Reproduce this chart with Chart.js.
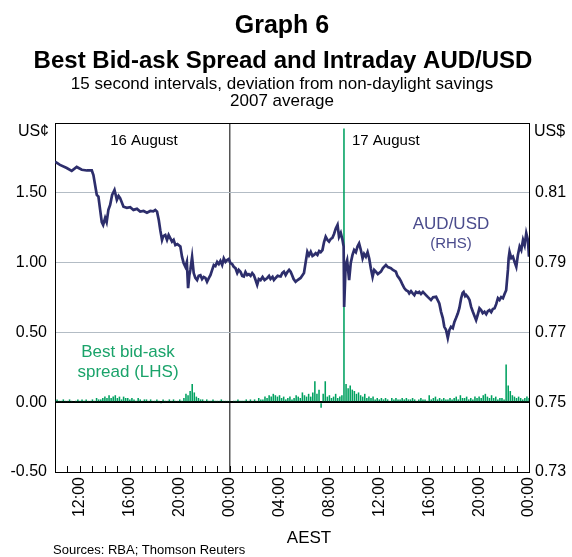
<!DOCTYPE html>
<html>
<head>
<meta charset="utf-8">
<script src="https://cdn.jsdelivr.net/npm/chart.js@4.4.0/dist/chart.umd.min.js"></script>
<style>
  html, body { margin: 0; padding: 0; background: #fff; }
</style>
</head>
<body>
<canvas id="graph" width="572" height="557"></canvas>
<script>
// hours since 00:00 16 August (AEST)
var audTimes = [
  10.00, 10.40, 10.94, 11.34, 11.74, 12.15, 12.55, 12.95, 13.08, 13.35,
  13.48, 13.62, 13.75, 13.86, 14.02, 14.14, 14.28, 14.42, 14.58, 14.77,
  14.96, 15.10, 15.22, 15.49, 15.76, 16.03, 16.29, 16.57, 16.83, 17.10,
  17.37, 17.64, 17.88, 18.04, 18.18, 18.32, 18.44, 18.58, 18.68, 18.84,
  18.98, 19.11, 19.24, 19.38, 19.51, 19.65, 19.81, 20.05, 20.18, 20.31,
  20.45, 20.57, 20.67, 20.77, 20.85, 20.99, 21.12, 21.25, 21.39, 21.52,
  21.66, 21.79, 21.92, 22.06, 22.19, 22.34, 22.46, 22.60, 22.73, 22.86,
  23.00, 23.13, 23.26, 23.40, 23.53, 23.67, 23.80, 23.93, 24.07, 24.20,
  24.33, 24.47, 24.61, 24.73, 24.87, 25.01, 25.14, 25.27, 25.41, 25.54,
  25.68, 25.81, 25.94, 26.08, 26.21, 26.34, 26.48, 26.64, 26.80, 27.02,
  27.16, 27.28, 27.44, 27.55, 27.69, 27.85, 28.09, 28.22, 28.35, 28.49,
  28.63, 28.77, 28.89, 29.01, 29.13, 29.29, 29.45, 29.69, 29.96, 30.10,
  30.23, 30.36, 30.50, 30.64, 30.76, 30.90, 31.04, 31.18, 31.30, 31.44,
  31.57, 31.70, 31.84, 31.97, 32.11, 32.24, 32.37, 32.51, 32.65, 32.77,
  32.91, 33.05, 33.14, 33.18, 33.30, 33.42, 33.58, 33.71, 33.85, 33.98,
  34.12, 34.25, 34.38, 34.52, 34.66, 34.78, 34.92, 35.06, 35.19, 35.32,
  35.46, 35.59, 35.72, 35.88, 36.13, 36.29, 36.53, 36.69, 36.93, 37.09,
  37.33, 37.45, 37.60, 37.73, 37.87, 38.00, 38.14, 38.30, 38.40, 38.54,
  38.68, 38.81, 38.94, 39.10, 39.20, 39.34, 39.50, 39.74, 39.90, 40.14,
  40.31, 40.55, 40.67, 40.81, 40.95, 41.09, 41.21, 41.35, 41.49, 41.62,
  41.75, 41.89, 42.02, 42.15, 42.29, 42.42, 42.56, 42.68, 42.76, 42.88,
  42.96, 43.10, 43.23, 43.36, 43.50, 43.63, 43.76, 43.90, 44.03, 44.16,
  44.29, 44.43, 44.57, 44.70, 44.83, 44.97, 45.10, 45.24, 45.37, 45.51,
  45.64, 45.77, 45.91, 46.04, 46.17, 46.31, 46.37, 46.44, 46.58, 46.71,
  46.84, 46.98, 47.11, 47.25, 47.38, 47.52, 47.65, 47.78, 47.91, 48.00
];
var audValues = [
  0.8189, 0.8180, 0.8171, 0.8163, 0.8174, 0.8166, 0.8164, 0.8164, 0.8151, 0.8094,
  0.8089, 0.8051, 0.8016, 0.8008, 0.8028, 0.8016, 0.8051, 0.8065, 0.8094, 0.8108,
  0.8080, 0.8091, 0.8085, 0.8060, 0.8057, 0.8059, 0.8051, 0.8054, 0.8046, 0.8048,
  0.8043, 0.8048, 0.8047, 0.8051, 0.8046, 0.8022, 0.7993, 0.7965, 0.7976, 0.7979,
  0.7965, 0.7979, 0.7970, 0.7960, 0.7965, 0.7950, 0.7953, 0.7946, 0.7917, 0.7899,
  0.7888, 0.7902, 0.7827, 0.7864, 0.7879, 0.7916, 0.7870, 0.7856, 0.7850, 0.7862,
  0.7864, 0.7853, 0.7859, 0.7856, 0.7845, 0.7856, 0.7864, 0.7879, 0.7893, 0.7890,
  0.7902, 0.7896, 0.7905, 0.7893, 0.7912, 0.7902, 0.7907, 0.7910, 0.7898, 0.7896,
  0.7888, 0.7884, 0.7870, 0.7879, 0.7874, 0.7862, 0.7860, 0.7873, 0.7864, 0.7867,
  0.7862, 0.7870, 0.7864, 0.7850, 0.7836, 0.7853, 0.7850, 0.7859, 0.7850, 0.7856,
  0.7862, 0.7853, 0.7859, 0.7850, 0.7856, 0.7862, 0.7860, 0.7870, 0.7874, 0.7864,
  0.7873, 0.7879, 0.7874, 0.7864, 0.7853, 0.7845, 0.7850, 0.7856, 0.7870, 0.7902,
  0.7931, 0.7921, 0.7931, 0.7919, 0.7922, 0.7927, 0.7922, 0.7933, 0.7930, 0.7936,
  0.7959, 0.7974, 0.7965, 0.7960, 0.7968, 0.7971, 0.7982, 0.7998, 0.8008, 0.7974,
  0.7985, 0.7965, 0.7946, 0.7773, 0.7893, 0.7907, 0.7850, 0.7899, 0.7922, 0.7936,
  0.7930, 0.7946, 0.7955, 0.7936, 0.7912, 0.7925, 0.7917, 0.7930, 0.7912, 0.7884,
  0.7859, 0.7879, 0.7874, 0.7867, 0.7874, 0.7884, 0.7893, 0.7887, 0.7884, 0.7879,
  0.7874, 0.7862, 0.7855, 0.7847, 0.7836, 0.7827, 0.7821, 0.7818, 0.7812, 0.7818,
  0.7812, 0.7807, 0.7816, 0.7813, 0.7816, 0.7810, 0.7816, 0.7807, 0.7801, 0.7793,
  0.7801, 0.7802, 0.7793, 0.7783, 0.7759, 0.7741, 0.7716, 0.7707, 0.7684, 0.7707,
  0.7716, 0.7712, 0.7730, 0.7741, 0.7754, 0.7770, 0.7798, 0.7813, 0.7816, 0.7804,
  0.7807, 0.7801, 0.7793, 0.7773, 0.7759, 0.7747, 0.7735, 0.7752, 0.7769, 0.7764,
  0.7755, 0.7759, 0.7752, 0.7761, 0.7764, 0.7758, 0.7767, 0.7769, 0.7781, 0.7798,
  0.7793, 0.7801, 0.7798, 0.7810, 0.7821, 0.7879, 0.7913, 0.7931, 0.7913, 0.7917,
  0.7902, 0.7888, 0.7922, 0.7946, 0.7936, 0.7965, 0.7950, 0.7984, 0.7965, 0.7917
];

// best bid-ask spread, 10-minute steps from 10:00 16 August, one row = 2 hours
var spreadStart = 10;
var spreadValues = [
  0.01, 0.02, 0.01, 0.01, 0.02, 0.01, 0.01, 0.02, 0.01, 0.00, 0.01, 0.02,
  0.01, 0.02, 0.01, 0.02, 0.01, 0.01, 0.02, 0.01, 0.03, 0.02, 0.02, 0.03,
  0.04, 0.03, 0.05, 0.03, 0.04, 0.05, 0.03, 0.04, 0.02, 0.04, 0.03, 0.03,
  0.02, 0.03, 0.02, 0.01, 0.03, 0.02, 0.01, 0.02, 0.02, 0.01, 0.02, 0.01,
  0.01, 0.02, 0.01, -0.01, 0.02, 0.01, 0.01, 0.02, 0.01, 0.02, 0.01, 0.01,
  0.02, 0.01, 0.03, 0.06, 0.05, 0.08, 0.13, 0.07, 0.04, 0.03, 0.02, 0.02,
  0.01, 0.02, 0.01, 0.01, 0.02, 0.01, 0.01, 0.01, 0.02, 0.01, 0.01, 0.01,
  0.01, 0.00, 0.01, 0.01, 0.02, 0.01, 0.01, 0.01, 0.02, 0.01, 0.02, 0.01,
  0.02, 0.01, 0.03, 0.02, 0.02, 0.04, 0.03, 0.05, 0.04, 0.06, 0.05, 0.04,
  0.05, 0.03, 0.04, 0.02, 0.03, 0.04, 0.02, 0.03, 0.05, 0.04, 0.03, 0.07,
  0.05, 0.04, 0.06, 0.04, 0.07, 0.15, 0.06, 0.09, -0.04, 0.06, 0.15, 0.04,
  0.05, 0.03, 0.04, 0.06, 0.03, 0.04, 0.05, 1.96, 0.13, 0.10, 0.12, 0.09,
  0.08, 0.06, 0.07, 0.05, 0.04, 0.06, 0.03, 0.04, 0.03, 0.04, 0.02, 0.03,
  0.02, 0.03, 0.02, 0.03, 0.02, 0.01, 0.03, 0.02, 0.03, 0.02, 0.02, 0.03,
  0.02, 0.03, 0.02, 0.02, 0.03, 0.02, 0.01, 0.02, 0.03, 0.02, 0.02, 0.01,
  0.05, 0.02, 0.03, 0.04, 0.02, 0.03, 0.02, 0.03, 0.02, 0.02, 0.03, 0.02,
  0.03, 0.04, 0.02, 0.05, 0.03, 0.03, 0.04, 0.02, 0.03, 0.02, 0.04, 0.03,
  0.04, 0.03, 0.05, 0.06, 0.04, 0.03, 0.05, 0.03, 0.04, 0.02, 0.03, 0.03,
  0.02, 0.27, 0.12, 0.08, 0.05, 0.04, 0.03, 0.04, 0.03, 0.02, 0.03, 0.04,
  0.03
];

var xMin = 10, xMax = 48;
var lhsTicks = [-0.5, 0, 0.5, 1, 1.5, 2];
var rhsTicks = [0.73, 0.75, 0.77, 0.79, 0.81, 0.83];

var navy = '#2d2e6c';
var green = '#00a160';
var gridGrey = '#b3bcc5';

Chart.defaults.font.family = '"Liberation Sans", Arial, sans-serif';
Chart.defaults.color = '#000';

function hourLabel(v) {
    if (v % 4 !== 0) return '';
    var h = v % 24;
    return (h < 10 ? '0' : '') + h + ':00';
}

var graphText = {
    id: 'graphText',
    afterDraw: function (chart) {
        var ctx = chart.ctx;
        var area = chart.chartArea;
        var xs = chart.scales.x;
        ctx.save();

        // top border
        ctx.fillStyle = '#000';
        ctx.fillRect(area.left, Math.round(area.top), area.right - area.left, 1);

        // hourly tick marks point up into the plot
        for (var h = xMin + 1; h < xMax; h++) {
            var px = Math.round(xs.getPixelForValue(h));
            ctx.fillRect(px, Math.round(area.bottom) - 6, 1, 6);
        }

        ctx.textBaseline = 'alphabetic';
        ctx.textAlign = 'center';
        ctx.font = 'bold 25px "Liberation Sans", Arial, sans-serif';
        ctx.fillText('Graph 6', 282, 33);
        ctx.font = 'bold 24px "Liberation Sans", Arial, sans-serif';
        ctx.fillText('Best Bid-ask Spread and Intraday AUD/USD', 283, 68);
        ctx.font = '17px "Liberation Sans", Arial, sans-serif';
        ctx.fillText('15 second intervals, deviation from non-daylight savings', 282, 89);
        ctx.fillText('2007 average', 282, 106);

        ctx.font = '16px "Liberation Sans", Arial, sans-serif';
        ctx.textAlign = 'right';
        ctx.fillText('US\u00a2', 49, 136);
        ctx.textAlign = 'left';
        ctx.fillText('US$', 534, 136);

        ctx.font = '15px "Liberation Sans", Arial, sans-serif';
        ctx.textAlign = 'center';
        ctx.fillText('16 August', 144, 145);
        ctx.textAlign = 'left';
        ctx.fillText('17 August', 352, 145);

        ctx.fillStyle = '#4a4b8c';
        ctx.textAlign = 'center';
        ctx.font = '17px "Liberation Sans", Arial, sans-serif';
        ctx.fillText('AUD/USD', 451, 229);
        ctx.font = '15px "Liberation Sans", Arial, sans-serif';
        ctx.fillText('(RHS)', 451, 248);

        ctx.fillStyle = '#1aa36a';
        ctx.font = '17px "Liberation Sans", Arial, sans-serif';
        ctx.fillText('Best bid-ask', 128, 357);
        ctx.fillText('spread (LHS)', 128, 377);

        ctx.fillStyle = '#000';
        ctx.font = '17px "Liberation Sans", Arial, sans-serif';
        ctx.fillText('AEST', 309, 543);
        ctx.textAlign = 'left';
        ctx.font = '13px "Liberation Sans", Arial, sans-serif';
        ctx.fillText('Sources: RBA; Thomson Reuters', 53, 554);
        ctx.restore();
    }
};

new Chart(document.getElementById('graph'), {
    type: 'bar',
    data: {
        datasets: [
            {
                type: 'line',
                label: 'AUD/USD',
                data: audTimes.map(function (t, i) { return { x: t, y: audValues[i] }; }),
                yAxisID: 'y1',
                borderColor: navy,
                borderWidth: 2.7,
                pointRadius: 0,
                tension: 0,
                order: 1
            },
            {
                type: 'bar',
                label: 'Best bid-ask spread',
                data: spreadValues.map(function (v, i) { return { x: spreadStart + i / 6, y: v }; }),
                yAxisID: 'y',
                backgroundColor: green,
                borderWidth: 0,
                barPercentage: 0.75,
                categoryPercentage: 1,
                order: 2
            }
        ]
    },
    options: {
        responsive: false,
        animation: false,
        events: [],
        layout: { padding: { top: 123, left: 0, right: 0, bottom: 0 } },
        plugins: {
            legend: { display: false },
            title: { display: false },
            tooltip: { enabled: false }
        },
        scales: {
            x: {
                type: 'linear',
                min: xMin,
                max: xMax,
                offset: false,
                afterFit: function (s) { s.height = 85; },
                afterBuildTicks: function (s) {
                    var list = [];
                    for (var v = xMin; v <= xMax; v++) list.push({ value: v });
                    s.ticks = list;
                },
                ticks: {
                    autoSkip: false,
                    minRotation: 90,
                    maxRotation: 90,
                    padding: 5,
                    font: { size: 16 },
                    callback: hourLabel
                },
                grid: {
                    offset: false,
                    drawTicks: false,
                    lineWidth: 1.5,
                    color: function (c) { return c.tick && c.tick.value === 24 ? '#555' : 'rgba(0,0,0,0)'; }
                },
                border: { display: true, color: '#000', width: 1 }
            },
            y: {
                position: 'left',
                min: -0.5,
                max: 2,
                afterFit: function (s) { s.width = 55; },
                afterBuildTicks: function (s) { s.ticks = lhsTicks.map(function (v) { return { value: v }; }); },
                ticks: {
                    padding: 8,
                    font: { size: 16 },
                    callback: function (v) { return v >= 2 ? '' : v.toFixed(2); }
                },
                grid: {
                    drawTicks: false,
                    color: function (c) {
                        var v = c.tick.value;
                        if (v === 0) return '#000';
                        if (v === -0.5 || v === 2) return 'rgba(0,0,0,0)';
                        return gridGrey;
                    },
                    lineWidth: function (c) { return c.tick.value === 0 ? 2 : 1; }
                },
                border: { display: true, color: '#000', width: 1 }
            },
            y1: {
                position: 'right',
                min: 0.73,
                max: 0.83,
                afterFit: function (s) { s.width = 43; },
                afterBuildTicks: function (s) { s.ticks = rhsTicks.map(function (v) { return { value: v }; }); },
                ticks: {
                    padding: 6,
                    font: { size: 16 },
                    callback: function (v) { return v >= 0.829 ? '' : v.toFixed(2); }
                },
                grid: { drawOnChartArea: false, drawTicks: false },
                border: { display: true, color: '#000', width: 1 }
            }
        }
    },
    plugins: [graphText]
});
</script>
</body>
</html>
